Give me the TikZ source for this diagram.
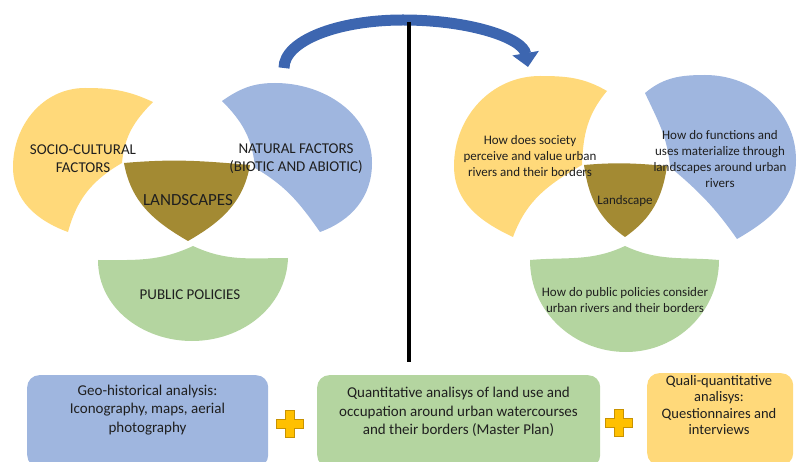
\documentclass[tikz,border=0pt]{standalone}
\usepackage{fontspec}
\setmainfont{Carlito}
\usetikzlibrary{arrows.meta}

\definecolor{venyellow}{HTML}{FFD97A}
\definecolor{venblue}{HTML}{9FB6DF}
\definecolor{vengreen}{HTML}{B4D5A0}
\definecolor{venbrown}{HTML}{A38A33}
\definecolor{arrowblue}{HTML}{3D66B0}
\definecolor{plusgold}{HTML}{FFC000}
\definecolor{plusedge}{HTML}{C89200}

\begin{document}
\begin{tikzpicture}[x=1pt,y=-1pt,
  venntext/.style={inner sep=0pt,align=center,text=black!88,font=\fontsize{15}{18}\selectfont},
  asktext/.style={inner sep=0pt,align=center,text=black!88,font=\fontsize{13}{16}\selectfont},
  boxshape/.style={rounded corners=12pt,minimum height=92pt,inner sep=0pt,anchor=north west},
  boxtext/.style={inner sep=0pt,align=center,text=black!88,font=\fontsize{15}{18.5}\selectfont},
  plussign/.style={fill=plusgold,draw=plusedge,line width=1pt,line join=miter},
  bigarrow/.style={draw=arrowblue,line width=11pt,-{Triangle[width=26pt,length=14pt]}},
  divider/.style={line width=4pt}]

   \useasboundingbox (0,0) rectangle (803,462);

   % left venn
   \fill[venyellow] (153,102) to[out=155,in=0] (85,88) to[out=180,in=90] (13,167)
        to[out=270,in=160] (68,232) to[out=75,in=210] (122,163) to[out=85,in=225] (153,102) -- cycle;
   \fill[venblue] (222,101) to[out=35,in=180] (275,83) to[out=0,in=90] (372,163)
        to[out=270,in=20] (320,232) to[out=125,in=-30] (255,168) to[out=95,in=-45] (222,101) -- cycle;
   \fill[venbrown] (124,163) to[out=5,in=175] (250,165) to[out=260,in=30] (188,241)
        to[out=150,in=280] (124,163) -- cycle;
   \fill[vengreen] (98,260) to[out=0,in=205] (193,246) to[out=-25,in=180] (288,258)
        to[out=268,in=0] (192,341) to[out=180,in=270] (98,260) -- cycle;

   % right venn
   \fill[venyellow] (607,91) to[out=150,in=0] (540,76) to[out=180,in=90] (454,166)
        to[out=270,in=155] (513,237) to[out=70,in=210] (582,165) to[out=88,in=230] (607,91) -- cycle;
   \fill[venblue] (645,93) to[out=40,in=180] (705,75) to[out=0,in=90] (796,160)
        to[out=270,in=30] (737,239) to[out=125,in=-40] (670,167) to[out=95,in=-65] (645,93) -- cycle;
   \fill[venbrown] (584,165) to[out=5,in=175] (667,166) to[out=262,in=35] (625,237)
        to[out=145,in=278] (584,165) -- cycle;
   \fill[vengreen] (530,260) to[out=5,in=205] (625,246) to[out=-25,in=175] (719,260)
        to[out=270,in=0] (626,352) to[out=180,in=270] (530,260) -- cycle;

   \node[venntext] (socio) at (83,159) {SOCIO-CULTURAL\\FACTORS};
   \node[venntext] (natural) at (296,159) {NATURAL FACTORS\\(BIOTIC AND ABIOTIC)};
   \node[venntext,font=\fontsize{17}{20}\selectfont] (landscapes) at (188,200) {LANDSCAPES};
   \node[venntext] (policies) at (190,295) {PUBLIC POLICIES};

   \node[asktext] (society) at (530,156) {How does society\\perceive and value urban\\rivers and their borders};
   \node[asktext] (functions) at (720,159) {How do functions and\\uses materialize through\\landscapes around urban\\rivers};
   \node[asktext] (landscape) at (625,201) {Landscape};
   \node[asktext] (publicq) at (625,300) {How do public policies consider\\urban rivers and their borders};

   \coordinate (arrtail) at (284,68);
   \coordinate (arrtop) at (403,20);
   \coordinate (arrhead) at (528,67);
   \draw[bigarrow] (arrtail) .. controls (284,41) and (337,20) .. (arrtop)
        .. controls (470,20) and (523,38) .. (arrhead);

   \coordinate (divtop) at (409,22);
   \coordinate (divbot) at (409,362);
   \draw[divider] (divtop) -- (divbot);

   % methods
   \node[boxshape,fill=venblue,minimum width=241pt] (geobox) at (27,375) {};
   \node[boxshape,fill=vengreen,minimum width=283pt] (quantbox) at (317,375) {};
   \node[boxshape,fill=venyellow,minimum width=146pt] (qualbox) at (647,373) {};

   \node[boxtext] (geotext) at (147.5,410) {Geo-historical analysis:\\Iconography, maps, aerial\\photography};
   \node[boxtext] (quanttext) at (458.5,412) {Quantitative analisys of land use and\\occupation around urban watercourses\\and their borders (Master Plan)};
   \node[boxtext,font=\fontsize{14.5}{16.5}\selectfont] (qualtext) at (719,405) {Quali-quantitative\\analisys:\\Questionnaires and\\interviews};

   \coordinate (plus1) at (290,424);
   \coordinate (plus2) at (619,423);
   \foreach \p in {plus1,plus2}
     \draw[plussign] (\p) ++(-4.5,-13.5) -- ++(9,0) -- ++(0,9) -- ++(9,0) -- ++(0,9) -- ++(-9,0)
        -- ++(0,9) -- ++(-9,0) -- ++(0,-9) -- ++(-9,0) -- ++(0,-9) -- ++(9,0) -- cycle;

\end{tikzpicture}
\end{document}
